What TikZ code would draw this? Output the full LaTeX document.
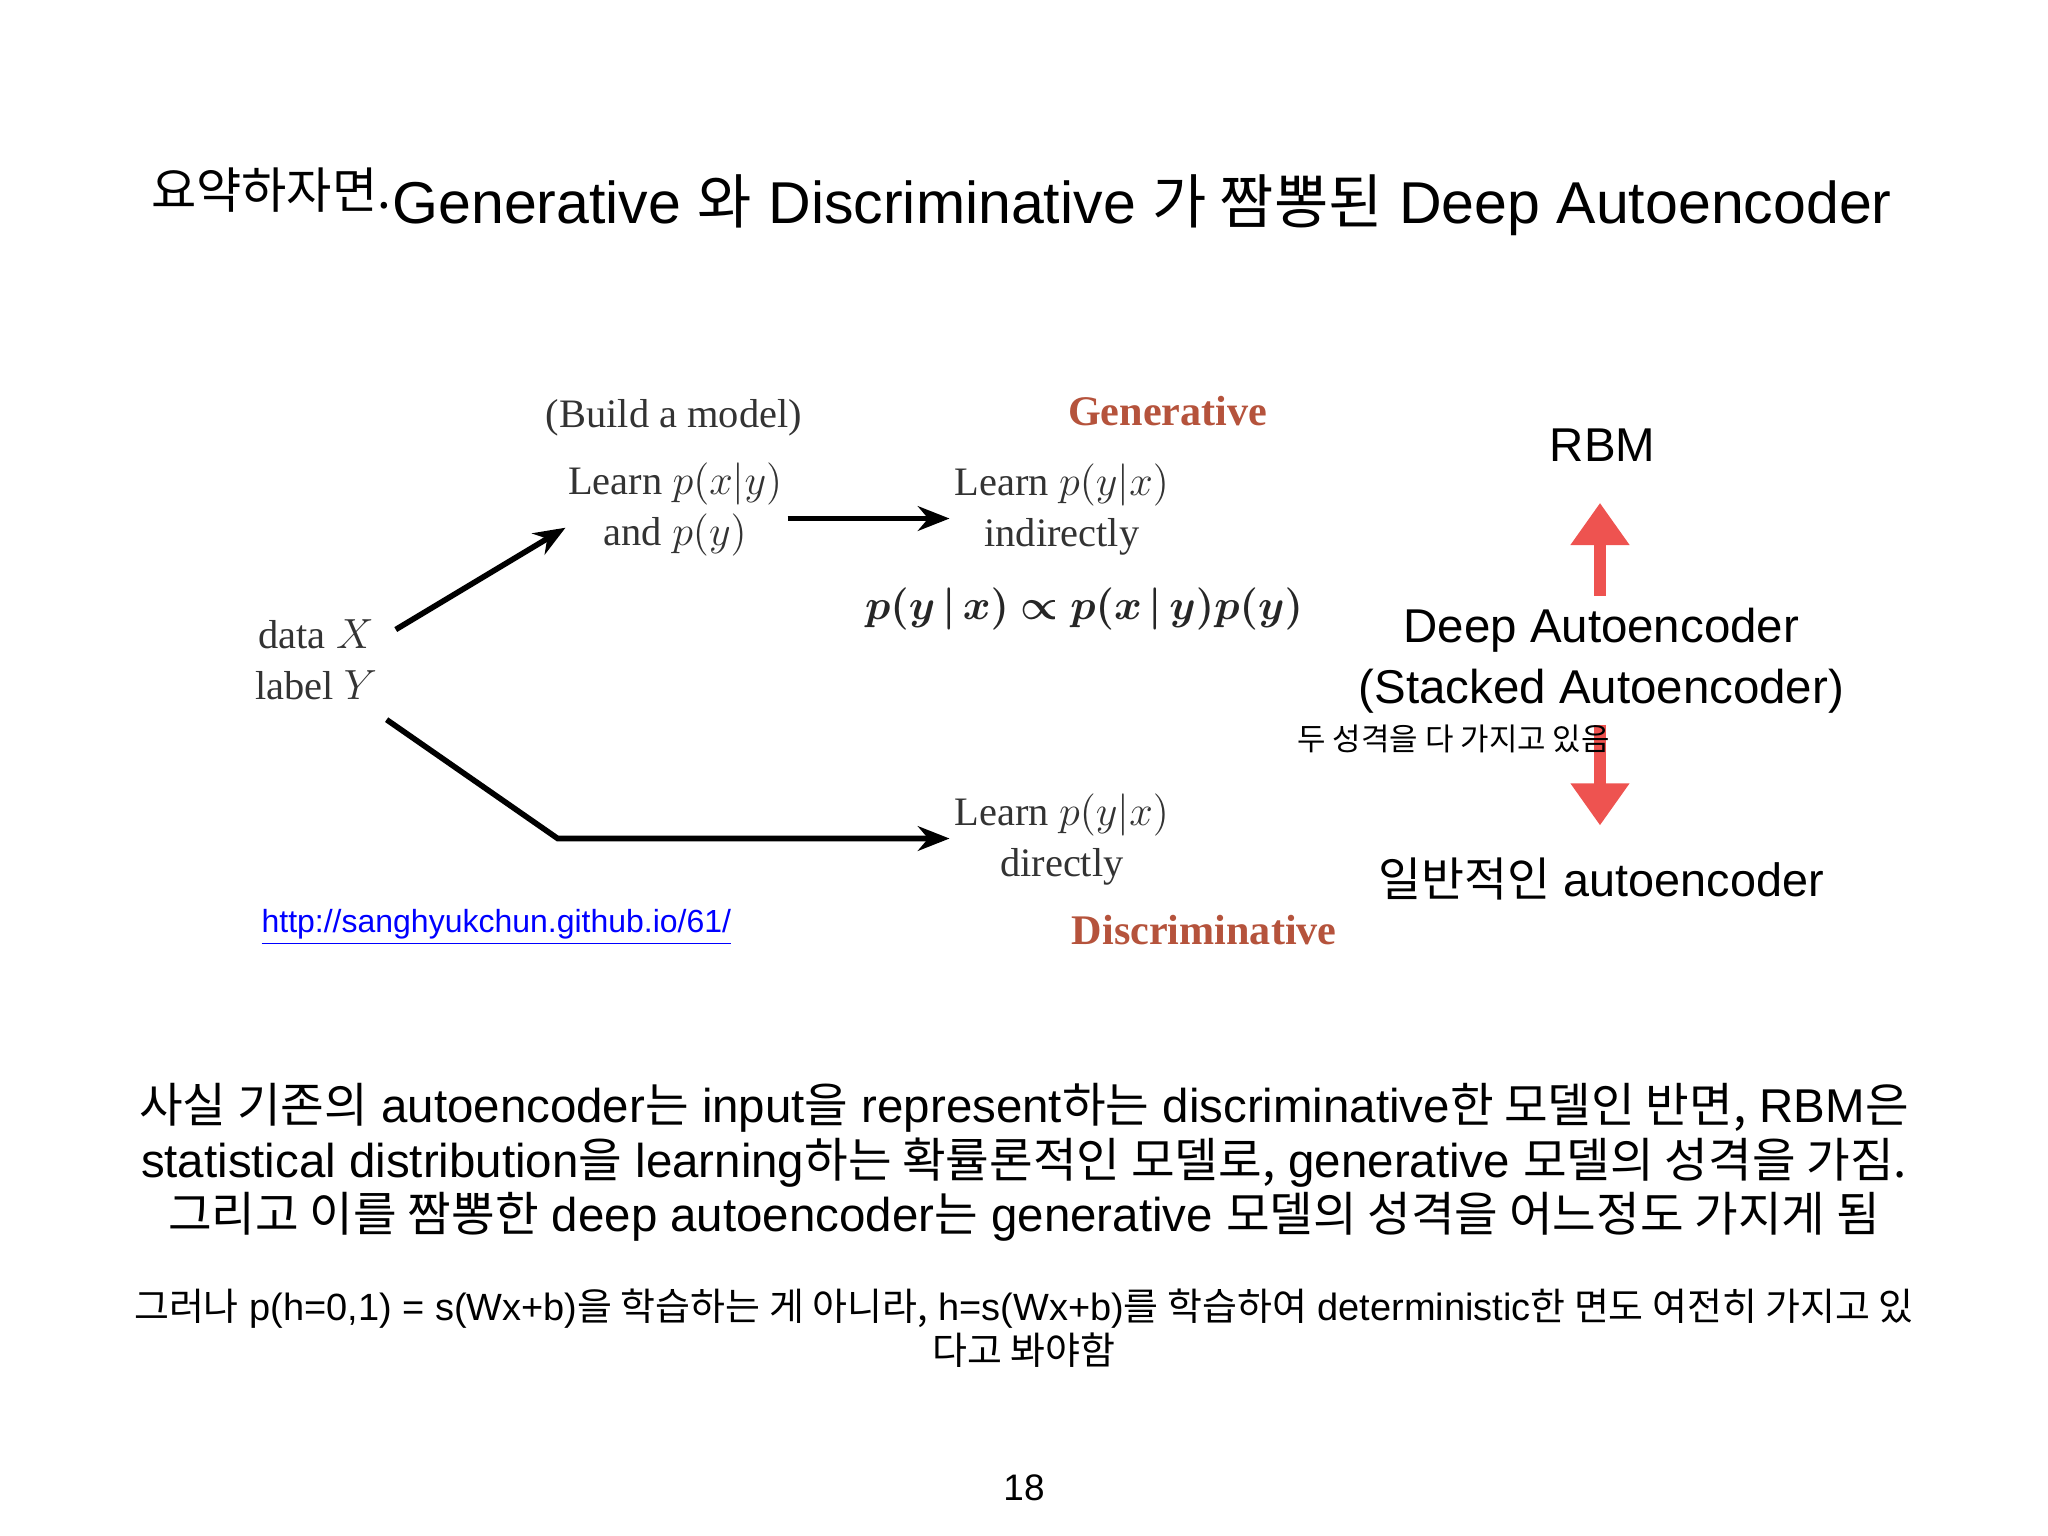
\documentclass[tikz,border=0pt]{standalone}
\usepackage{amsmath,amssymb,bm}
\usepackage{fontspec}
\setmainfont{Liberation Sans}
\newfontfamily\cjk{Noto Sans CJK KR}
\newfontfamily\serifx{Liberation Serif}
\usetikzlibrary{arrows.meta}
\newcommand\kr[1]{{\cjk #1}}
\definecolor{gred}{HTML}{B5533C}
\definecolor{ared}{HTML}{EE5350}
\tikzset{
 ser/.style={font=\serifx\fontsize{11.5}{14.5}\selectfont, align=center, text=black!80},
 lbl/.style={font=\serifx\bfseries\fontsize{12}{14}\selectfont, text=gred},
 blk/.style={-{Stealth[length=9pt,width=7pt]}, line width=1.6pt},
 fat/.style={-{Triangle[length=12pt,width=16pt]}, line width=3.5pt, ared},
}
\begin{document}
\begin{tikzpicture}[x=0.01306cm,y=-0.01306cm]
\useasboundingbox (0,0) rectangle (1568,1176);
% title
\node[anchor=base east, inner sep=0, font=\fontsize{14}{16}\selectfont] (t1) at (300,160) {\kr{요약하자면.}};
\node[anchor=base west, inner sep=0, font=\fontsize{16.8}{19}\selectfont] (t2) at (300,171) {Generative \kr{와} Discriminative \kr{가 짬뽕된} Deep Autoencoder};
% diagram
\node[ser] (bm) at (516,320) {(Build a model)};
\node[lbl] (gen) at (894,315) {Generative};
\node[ser] (lxy) at (517,390) {Learn $p(x|y)$\\and $p(y)$};
\node[ser] (lyx) at (813,390) {Learn $p(y|x)$\\indirectly};
\node[font=\fontsize{12.5}{15}\selectfont, text=black!85] (form) at (830,466) {$\bm{p(y\,|\,x)\propto p(x\,|\,y)p(y)}$};
\node[ser] (data) at (242,505) {data $X$\\label $Y$};
\node[ser] (lyd) at (813,643) {Learn $p(y|x)$\\directly};
\node[lbl] (dis) at (922,712) {Discriminative};
\coordinate (a1) at (303,482); \coordinate (a2) at (433,404);
\draw[blk] (a1) -- (a2);
\coordinate (b1) at (603,397); \coordinate (b2) at (727,397);
\draw[blk] (b1) -- (b2);
\coordinate (c1) at (296,551); \coordinate (c2) at (427,642); \coordinate (c3) at (727,642);
\draw[blk] (c1) -- (c2) -- (c3);
\node[text=blue, font=\fontsize{9.1}{11}\selectfont] (url) at (380,710) {\underline{http://sanghyukchun.github.io/61/}};
% right
\node[font=\fontsize{13.5}{16}\selectfont] (rbm) at (1227,341) {RBM};
\node[font=\fontsize{13.5}{17.5}\selectfont, align=center] (dae) at (1226,506) {Deep Autoencoder\\(Stacked Autoencoder)};
\coordinate (u1) at (1225,456); \coordinate (u2) at (1225,385);
\draw[fat] (u1) -- (u2);
\coordinate (d1) at (1225,555); \coordinate (d2) at (1225,632);
\draw[fat] (d1) -- (d2);
\node[font=\fontsize{8.8}{11}\selectfont] (both) at (1113,566) {\kr{두 성격을 다 가지고 있음}};
\node[font=\fontsize{13.3}{16}\selectfont] (ae) at (1226,673) {\kr{일반적인} autoencoder};
% paragraph
\node[font=\fontsize{13.5}{16}\selectfont] (p1) at (784,848) {\kr{사실 기존의} autoencoder\kr{는} input\kr{을} represent\kr{하는} discriminative\kr{한 모델인 반면,} RBM\kr{은}};
\node[font=\fontsize{13.5}{16}\selectfont] (p2) at (784,890) {statistical distribution\kr{을} learning\kr{하는 확률론적인 모델로,} generative \kr{모델의 성격을 가짐.}};
\node[font=\fontsize{13.5}{16}\selectfont] (p3) at (784,932) {\kr{그리고 이를 짬뽕한} deep autoencoder\kr{는} generative \kr{모델의 성격을 어느정도 가지게 됨}};
\node[font=\fontsize{10.8}{12}\selectfont] (q1) at (784,1002) {\kr{그러나} p(h=0,1) = s(Wx+b)\kr{을 학습하는 게 아니라,} h=s(Wx+b)\kr{를 학습하여} deterministic\kr{한 면도 여전히 가지고 있}};
\node[font=\fontsize{10.8}{12}\selectfont] (q2) at (784,1034) {\kr{다고 봐야함}};
\node[font=\fontsize{10.5}{12}\selectfont] (pg) at (784,1139) {18};
\end{tikzpicture}
\end{document}
